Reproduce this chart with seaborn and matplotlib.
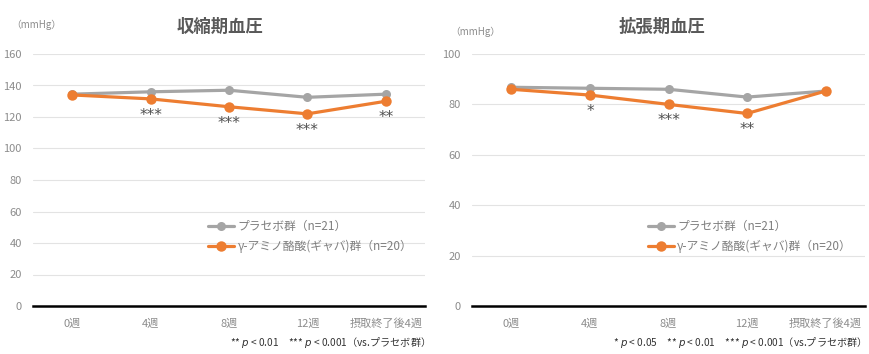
import matplotlib
matplotlib.use("Agg")
import matplotlib.pyplot as plt
import seaborn as sns
import pandas as pd

weeks = ["0週", "4週", "8週", "12週", "摂取終了後4週"]
sys_placebo = [134.5, 136.0, 137.0, 132.5, 134.5]
sys_gaba = [134.0, 131.5, 126.5, 122.0, 130.0]
dia_placebo = [86.8, 86.4, 86.0, 82.9, 85.3]
dia_gaba = [86.0, 83.7, 80.0, 76.4, 85.3]
sys_sig = ["", "***", "***", "***", "**"]
dia_sig = ["", "*", "***", "**", ""]
label_placebo = "プラセボ群（n=21）"
label_gaba = "γ-アミノ酪酸(ギャバ)群（n=20）"
titles = ["収縮期血圧", "拡張期血圧"]

sns.set_theme(style="white")
plt.rcParams["font.family"] = ["Noto Sans CJK JP", "DejaVu Sans"]

GRAY = "#A5A5A5"
ORANGE = "#ED7D31"
TICK = "#8C8C8C"

W, H = 869, 354
fig = plt.figure(figsize=(W / 100, H / 100), dpi=100)

def px_ax(x0, x1, ytop, ybot):
    return fig.add_axes([x0 / W, 1 - ybot / H, (x1 - x0) / W, (ybot - ytop) / H])

ax1 = px_ax(33, 425, 54, 306)
ax2 = px_ax(472, 865, 54, 306)

specs = [
    (ax1, sys_placebo, sys_gaba, sys_sig, 160, 20),
    (ax2, dia_placebo, dia_gaba, dia_sig, 100, 20),
]

for ax, plc, gab, sig, ymax, step in specs:
    df = pd.DataFrame({"week": weeks, "placebo": plc, "gaba": gab})
    sns.lineplot(data=df, x="week", y="placebo", ax=ax, color=GRAY, lw=2.3,
                 marker="o", markersize=6.5, markeredgewidth=0, label=label_placebo,
                 sort=False)
    sns.lineplot(data=df, x="week", y="gaba", ax=ax, color=ORANGE, lw=2.3,
                 marker="o", markersize=7.5, markeredgewidth=0, label=label_gaba,
                 sort=False)
    for i, s in enumerate(sig):
        if s:
            ax.annotate(s, (i, gab[i]), xytext=(0, -15), textcoords="offset points",
                        ha="center", va="baseline", fontsize=11, color="#505050",
                        family=["DejaVu Sans"])
    ax.set_xlim(-0.5, 4.5)
    ax.set_ylim(0, ymax)
    ax.set_yticks(range(0, ymax + 1, step))
    ax.grid(axis="y", color="#E3E3E3", lw=0.8)
    ax.set_axisbelow(True)
    for s in ["left", "right", "top"]:
        ax.spines[s].set_visible(False)
    ax.spines["bottom"].set_color("black")
    ax.spines["bottom"].set_linewidth(1.8)
    ax.spines["bottom"].set_zorder(5)
    ax.tick_params(axis="both", length=0, colors=TICK, labelsize=8)
    ax.tick_params(axis="y", pad=8)
    ax.tick_params(axis="x", pad=9)
    ax.set_xlabel("")
    ax.set_ylabel("")
    leg = ax.legend(loc="upper left", bbox_to_anchor=(0.435, 0.36), frameon=False,
                    fontsize=8.5, handlelength=2.2, handletextpad=0.3, labelspacing=0.6,
                    borderaxespad=0)
    for t in leg.get_texts():
        t.set_color("#7F7F7F")

fig.text(220 / W, 1 - 27 / H, titles[0], ha="center", va="center", fontsize=12.5,
         fontweight="bold", color="#595959")
fig.text(662 / W, 1 - 27 / H, titles[1], ha="center", va="center", fontsize=12.5,
         fontweight="bold", color="#595959")
fig.text(11 / W, 1 - 25 / H, "（mmHg）", ha="left", va="center", fontsize=7, color=TICK)
fig.text(450 / W, 1 - 32 / H, "（mmHg）", ha="left", va="center", fontsize=7, color=TICK)

fig.text(425 / W, 1 - 342 / H, "** $p$ < 0.01　*** $p$ < 0.001（vs.プラセボ群）",
         ha="right", va="center", fontsize=7.3, color="#333333")
fig.text(862 / W, 1 - 342 / H,
         "* $p$ < 0.05　** $p$ < 0.01　*** $p$ < 0.001（vs.プラセボ群）",
         ha="right", va="center", fontsize=7.3, color="#333333")

fig.savefig("out.png", dpi=100, facecolor="white")
